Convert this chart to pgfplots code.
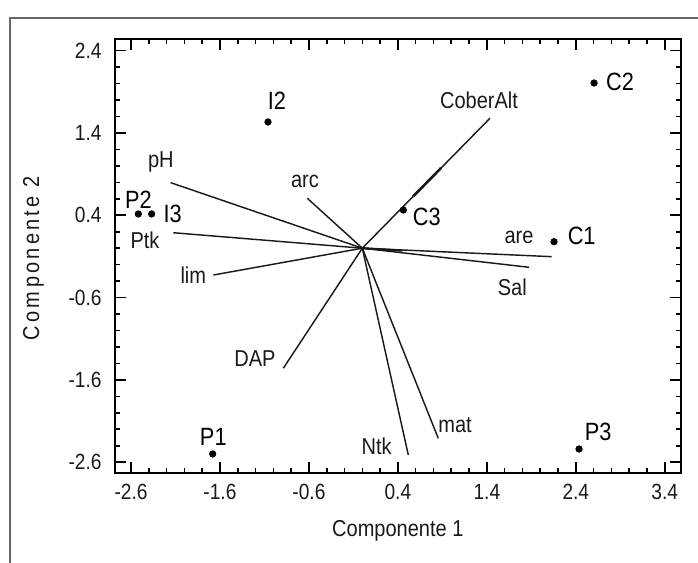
\documentclass[border=0pt]{standalone}
\usepackage{pgfplots}
\pgfplotsset{compat=1.18}
\usepackage{fontspec}
\setmainfont{Liberation Sans}[FakeStretch=0.87]
\newfontfamily\ylabfont{Liberation Sans}[FakeStretch=0.87, LetterSpace=14]

% Biplot: observation scores and variable loadings
\pgfplotstableread{
x      y
2.605  2.007
-1.060 1.533
0.461  0.464
2.155  0.079
-2.518 0.416
-2.368 0.416
-1.682 -2.500
2.436  -2.440
}\scores

\begin{document}
\begin{tikzpicture}[x=1pt,y=1pt]
\useasboundingbox (0,0) rectangle (349,281.5);
\draw[line width=1pt, black!60] (5,-10) -- (5,272.5) -- (360,272.5);
\begin{axis}[
  at={(57.5pt,44.85pt)}, anchor=south west,
  width=282.85pt, height=217pt, scale only axis,
  xmin=-2.78, xmax=3.579, ymin=-2.735, ymax=2.538,
  xtick={-2.6,-1.6,-0.6,0.4,1.4,2.4,3.4},
  ytick={-2.6,-1.6,-0.6,0.4,1.4,2.4},
  xticklabels={-2.6,-1.6,-0.6,0.4,1.4,2.4,3.4},
  yticklabels={-2.6,-1.6,-0.6,0.4,1.4,2.4},
  minor x tick num=4, minor y tick num=4,
  tick align=inside, xtick pos=both, ytick pos=both,
  xticklabel pos=bottom, yticklabel pos=left,
  major tick length=5.5pt, minor tick length=2.5pt,
  every tick/.style={black, line width=0.8pt},
  axis line style={black, line width=1pt},
  tick label style={font=\fontsize{11}{12}\selectfont, text=black!90},
  yticklabel style={inner sep=0pt, anchor=east, xshift=-6.5pt},
  xticklabel style={inner sep=0pt, anchor=north, yshift=-5.2pt},
  xlabel={Componente 1},
  ylabel={\ylabfont Com\kern2pt ponente 2},
  xlabel style={font=\fontsize{11.5}{13}\selectfont, text=black!90, at={(axis description cs:0.5,0)}, anchor=center, yshift=-28.9pt},
  ylabel style={font=\fontsize{11.5}{13}\selectfont, text=black!90, at={(axis description cs:0,0.495)}, anchor=center, yshift=40.75pt},
  clip=false,
  loading/.style={black!90, line width=0.72pt, mark=none, solid},
]
% variable loadings
\addplot[loading] coordinates {(0,0) (1.436,1.580)};
\addplot[loading] coordinates {(0,0) (-2.154,0.796)};
\addplot[loading] coordinates {(0,0) (-0.618,0.606)};
\addplot[loading] coordinates {(0,0) (-2.125,0.188)};
\addplot[loading] coordinates {(0,0) (-1.675,-0.326)};
\addplot[loading] coordinates {(0,0) (-0.888,-1.459)};
\addplot[loading] coordinates {(0,0) (0.517,-2.513)};
\addplot[loading] coordinates {(0,0) (0.854,-2.310)};
\addplot[loading] coordinates {(0,0) (2.129,-0.103)};
\addplot[loading] coordinates {(0,0) (1.874,-0.232)};
\addplot[loading, line width=1.3pt] coordinates {(0.57,0.627) (0.885,0.974)};
\addplot[loading, line width=1.1pt] coordinates {(0,0) (0.45,-0.03)};

% observation scores
\addplot[only marks, mark=*, mark size=1.6pt, black] table {\scores};

% loading names
\begin{scope}[font=\fontsize{11.5}{13}\selectfont, text=black!90]
\node at (axis cs:1.312,1.800) {CoberAlt};
\node at (axis cs:-2.264,1.047) {pH};
\node at (axis cs:-0.645,0.817) {arc};
\node at (axis cs:-2.443,0.100) {Ptk};
\node at (axis cs:-1.900,-0.326) {lim};
\node at (axis cs:-1.206,-1.338) {DAP};
\node at (axis cs:0.162,-2.412) {Ntk};
\node at (axis cs:1.042,-2.148) {mat};
\node at (axis cs:1.762,0.132) {are};
\node at (axis cs:1.686,-0.475) {Sal};
\end{scope}
% observation names
\begin{scope}[font=\fontsize{12.5}{14}\selectfont, text=black]
\node at (axis cs:2.898,2.020) {C2};
\node at (axis cs:-0.959,1.787) {I2};
\node at (axis cs:0.724,0.383) {C3};
\node at (axis cs:2.466,0.148) {C1};
\node at (axis cs:-2.518,0.594) {P2};
\node at (axis cs:-2.131,0.416) {I3};
\node at (axis cs:-1.675,-2.290) {P1};
\node at (axis cs:2.650,-2.235) {P3};
\end{scope}
\end{axis}
\end{tikzpicture}
\end{document}
